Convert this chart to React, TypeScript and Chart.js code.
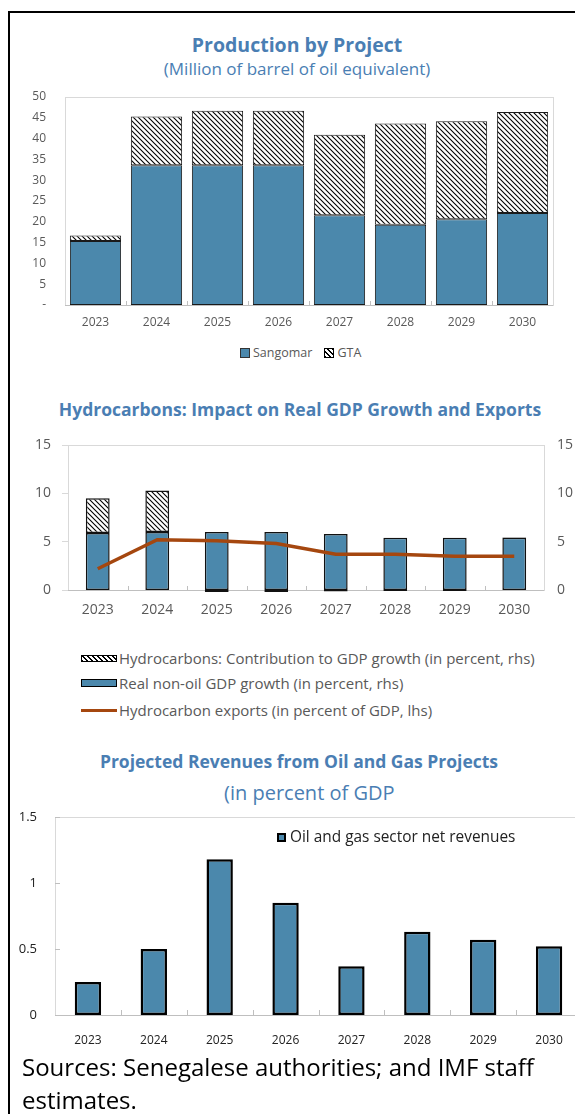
import React, { useEffect, useRef } from 'react';
import { Chart, registerables } from 'chart.js';

Chart.register(...registerables);

// ---------- data ----------
const years = ['2023', '2024', '2025', '2026', '2027', '2028', '2029', '2030'];

// Production by project (million barrels of oil equivalent)
const sangomar = [15.4, 33.6, 33.6, 33.6, 21.6, 19.3, 20.6, 22.1];
const gta = [1.3, 11.7, 13.1, 13.1, 19.3, 24.3, 23.6, 24.3];
const productionTicks = [0, 5, 10, 15, 20, 25, 30, 35, 40, 45, 50];

// Hydrocarbons: impact on growth and exports
const nonOilGrowth = [5.9, 6.0, 6.0, 6.0, 5.8, 5.4, 5.4, 5.4];
const hydroContribution = [3.6, 4.3, -0.2, -0.2, -0.15, -0.1, -0.1, 0.05];
const hydroExports = [2.2, 5.2, 5.1, 4.8, 3.7, 3.7, 3.5, 3.5];

// Projected revenues (percent of GDP)
const netRevenues = [0.25, 0.5, 1.18, 0.85, 0.37, 0.63, 0.57, 0.52];

// ---------- styles ----------
const BLUE = '#4b88ac';
const TITLE = '#4a7eb3';
const BROWN = '#a5470f';
const GRAY = '#595959';
const FONT = '"Open Sans", "Noto Sans", sans-serif';

function makeHatch(): CanvasPattern | string {
  const s = 5;
  const c = document.createElement('canvas');
  c.width = s;
  c.height = s;
  const g = c.getContext('2d');
  if (!g) return '#fff';
  g.fillStyle = '#fff';
  g.fillRect(0, 0, s, s);
  g.strokeStyle = '#000';
  g.lineWidth = 1.1;
  g.beginPath();
  g.moveTo(-1, -1);
  g.lineTo(s + 1, s + 1);
  g.moveTo(-s - 1, -1);
  g.lineTo(1, s + 1);
  g.moveTo(s - 1, -1);
  g.lineTo(2 * s + 1, s + 1);
  g.stroke();
  return g.createPattern(c, 'repeat') || '#fff';
}

// plot-area frame and inside tick marks
const framePlugin = {
  id: 'frame',
  beforeDatasetsDraw(chart: any, _args: any, opts: any) {
    const { ctx, chartArea } = chart;
    const { left, right, top, bottom } = chartArea;
    ctx.save();
    ctx.lineWidth = 1;
    ctx.strokeStyle = opts.frameColor || '#d9d9d9';
    ctx.strokeRect(Math.round(left) + 0.5, Math.round(top) + 0.5, Math.round(right - left), Math.round(bottom - top));
    ctx.strokeStyle = opts.axisColor || '#bfbfbf';
    ctx.beginPath();
    ctx.moveTo(left, Math.round(bottom) + 0.5);
    ctx.lineTo(right, Math.round(bottom) + 0.5);
    ctx.stroke();
    const len = opts.tickLen || 4;
    if (opts.xTicks) {
      const xs = chart.scales.x;
      const n = chart.data.labels.length;
      ctx.beginPath();
      for (let i = 1; i < n; i++) {
        const x = Math.round((xs.getPixelForValue(i - 1) + xs.getPixelForValue(i)) / 2) + 0.5;
        ctx.moveTo(x, bottom);
        ctx.lineTo(x, bottom - len);
      }
      ctx.stroke();
    }
    if (opts.yTicks) {
      const ys = chart.scales[opts.yTicks];
      ctx.beginPath();
      ys.ticks.forEach((t: any) => {
        const y = Math.round(ys.getPixelForValue(t.value)) + 0.5;
        ctx.moveTo(left, y);
        ctx.lineTo(left + len, y);
      });
      ctx.stroke();
    }
    ctx.restore();
  },
};

const fixY = (w: number) => (s: any) => {
  s.width = w;
  s.paddingTop = 0;
  s.paddingBottom = 0;
};

export default function App() {
  const c1 = useRef<HTMLCanvasElement>(null);
  const c2 = useRef<HTMLCanvasElement>(null);
  const c3 = useRef<HTMLCanvasElement>(null);

  useEffect(() => {
    const hatch = makeHatch();

    const ch1 = new Chart(c1.current as HTMLCanvasElement, {
      type: 'bar',
      data: {
        labels: years,
        datasets: [
          {
            label: 'Sangomar',
            data: sangomar,
            backgroundColor: BLUE,
            borderColor: '#1a1a1a',
            borderWidth: 1,
            borderSkipped: false,
            barPercentage: 0.84,
            categoryPercentage: 1,
          },
          {
            label: 'GTA',
            data: gta,
            backgroundColor: hatch as any,
            borderColor: '#1a1a1a',
            borderWidth: 1,
            borderSkipped: false,
            barPercentage: 0.84,
            categoryPercentage: 1,
          },
        ],
      },
      options: {
        animation: false,
        responsive: false,
        maintainAspectRatio: false,
        layout: { padding: { top: 8, right: 22, left: 0, bottom: 0 } },
        plugins: {
          legend: { display: false },
          tooltip: { enabled: false },
          frame: { xTicks: true, tickLen: 4 },
        } as any,
        scales: {
          x: {
            stacked: true,
            grid: { display: false, drawTicks: false },
            border: { display: false },
            ticks: { font: { family: FONT, size: 12 }, color: GRAY, padding: 10 },
            afterFit: (s: any) => { s.height = 30; },
          },
          y: {
            stacked: true,
            min: 0,
            max: 50,
            afterBuildTicks: (s: any) => { s.ticks = productionTicks.map((v) => ({ value: v })); },
            grid: { display: false, drawTicks: false },
            border: { display: false },
            ticks: {
              font: { family: FONT, size: 12 },
              color: GRAY,
              padding: 19,
              callback: (v: any) => (Number(v) === 0 ? '-' : String(v)),
            },
            afterFit: fixY(65),
          },
        },
      },
      plugins: [framePlugin],
    } as any);

    const ch2 = new Chart(c2.current as HTMLCanvasElement, {
      type: 'bar',
      data: {
        labels: years,
        datasets: [
          {
            type: 'line',
            label: 'Hydrocarbon exports (in percent of GDP, lhs)',
            data: hydroExports,
            yAxisID: 'yL',
            borderColor: BROWN,
            backgroundColor: BROWN,
            borderWidth: 3.5,
            pointRadius: 0,
            tension: 0,
            order: 0,
          },
          {
            label: 'Real non-oil GDP growth (in percent, rhs)',
            data: nonOilGrowth,
            yAxisID: 'yR',
            backgroundColor: BLUE,
            borderColor: '#111',
            borderWidth: 1.5,
            borderSkipped: false,
            barPercentage: 0.4,
            categoryPercentage: 1,
            stack: 'g',
            order: 1,
          },
          {
            label: 'Hydrocarbons: Contribution to GDP growth (in percent, rhs)',
            data: hydroContribution,
            yAxisID: 'yR',
            backgroundColor: hatch as any,
            borderColor: '#111',
            borderWidth: 1.5,
            borderSkipped: false,
            barPercentage: 0.4,
            categoryPercentage: 1,
            stack: 'g',
            order: 1,
            clip: false,
          },
        ],
      },
      options: {
        animation: false,
        responsive: false,
        maintainAspectRatio: false,
        layout: { padding: { top: 10, right: 0, left: 0, bottom: 0 } },
        plugins: {
          legend: { display: false },
          tooltip: { enabled: false },
          frame: { xTicks: true, tickLen: 4 },
        } as any,
        scales: {
          x: {
            stacked: true,
            grid: { display: false, drawTicks: false },
            border: { display: false },
            ticks: { font: { family: FONT, size: 14 }, color: GRAY, padding: 12 },
            afterFit: (s: any) => { s.height = 35; },
          },
          yL: {
            position: 'left',
            min: 0,
            max: 15,
            ticks: { stepSize: 5, font: { family: FONT, size: 14 }, color: GRAY, padding: 11 },
            grid: { display: true, drawOnChartArea: false, drawTicks: true, tickLength: 6, color: '#d9d9d9' },
            border: { display: false },
            afterFit: fixY(68),
          },
          yR: {
            position: 'right',
            stacked: true,
            min: 0,
            max: 15,
            ticks: { stepSize: 5, font: { family: FONT, size: 14 }, color: GRAY, padding: 13 },
            grid: { display: false, drawTicks: false },
            border: { display: false },
            afterFit: fixY(31),
          },
        },
      },
      plugins: [framePlugin],
    } as any);

    const ch3 = new Chart(c3.current as HTMLCanvasElement, {
      type: 'bar',
      data: {
        labels: years,
        datasets: [
          {
            label: 'Oil and gas sector net revenues',
            data: netRevenues,
            backgroundColor: BLUE,
            borderColor: '#000',
            borderWidth: 2.5,
            borderSkipped: false,
            barPercentage: 0.4,
            categoryPercentage: 1,
          },
        ],
      },
      options: {
        animation: false,
        responsive: false,
        maintainAspectRatio: false,
        layout: { padding: { top: 12, right: 18, left: 0, bottom: 0 } },
        plugins: {
          legend: { display: false },
          tooltip: { enabled: false },
          frame: { xTicks: true, yTicks: 'y', tickLen: 5 },
        } as any,
        scales: {
          x: {
            grid: { display: false, drawTicks: false },
            border: { display: false },
            ticks: { font: { family: FONT, size: 12 }, color: '#222', padding: 18 },
            afterFit: (s: any) => { s.height = 40; },
          },
          y: {
            min: 0,
            max: 1.5,
            ticks: {
              stepSize: 0.5,
              font: { family: FONT, size: 13 },
              color: '#222',
              padding: 18,
              callback: (v: any) => String(Math.round(Number(v) * 10) / 10),
            },
            grid: { display: false, drawTicks: false },
            border: { display: false },
            afterFit: fixY(55),
          },
        },
      },
      plugins: [framePlugin],
    } as any);

    return () => {
      ch1.destroy();
      ch2.destroy();
      ch3.destroy();
    };
  }, []);

  const abs = (l: number, t: number, extra: React.CSSProperties = {}): React.CSSProperties => ({
    position: 'absolute',
    left: l,
    top: t,
    fontFamily: FONT,
    ...extra,
  });

  const hatchCss = 'repeating-linear-gradient(45deg, #000 0px, #000 1px, #fff 1px, #fff 3.5px)';

  return (
    <div>
      {/* outer frame */}
      <div style={{ position: 'absolute', left: 8, top: 11, width: 567, height: 1103, borderTop: '2px solid #000', borderLeft: '2px solid #000', boxSizing: 'border-box' }} />

      {/* chart 1 */}
      <div style={abs(8, 32, { width: 578, textAlign: 'center', color: TITLE, fontWeight: 700, fontSize: 19.5, lineHeight: '26px', whiteSpace: 'nowrap' })}>Production by Project</div>
      <div style={abs(8, 57, { width: 578, textAlign: 'center', color: TITLE, fontSize: 17, lineHeight: '24px', whiteSpace: 'nowrap' })}>(Million of barrel of oil equivalent)</div>
      <canvas ref={c1} width={575} height={246} style={{ position: 'absolute', left: 0, top: 89, width: 575, height: 246 }} />
      <div style={abs(240, 344, { display: 'flex', alignItems: 'center', fontSize: 12.5, color: GRAY, lineHeight: '18px', whiteSpace: 'nowrap' })}>
        <span style={{ display: 'inline-block', width: 8, height: 8, background: BLUE, border: '1px solid #333', marginRight: 3 }} />
        <span>Sangomar</span>
        <span style={{ display: 'inline-block', width: 8, height: 8, background: hatchCss, border: '1px solid #000', marginLeft: 12, marginRight: 3 }} />
        <span>GTA</span>
      </div>

      {/* chart 2 */}
      <div style={abs(8, 396, { width: 584, textAlign: 'center', color: TITLE, fontWeight: 700, fontSize: 17.5, lineHeight: '26px', whiteSpace: 'nowrap' })}>Hydrocarbons: Impact on Real GDP Growth and Exports</div>
      <canvas ref={c2} width={575} height={190} style={{ position: 'absolute', left: 0, top: 435, width: 575, height: 190 }} />
      <div style={abs(81, 647, { display: 'flex', alignItems: 'center', fontSize: 15, color: GRAY, lineHeight: '22px', whiteSpace: 'nowrap' })}>
        <span style={{ display: 'inline-block', width: 36, height: 7, background: hatchCss, border: '1px solid #000', boxSizing: 'border-box', marginRight: 2 }} />
        <span>Hydrocarbons: Contribution to GDP growth (in percent, rhs)</span>
      </div>
      <div style={abs(81, 672, { display: 'flex', alignItems: 'center', fontSize: 15, color: GRAY, lineHeight: '22px', whiteSpace: 'nowrap' })}>
        <span style={{ display: 'inline-block', width: 36, height: 8, background: BLUE, border: '1px solid #000', boxSizing: 'border-box', marginRight: 2 }} />
        <span>Real non-oil GDP growth (in percent, rhs)</span>
      </div>
      <div style={abs(81, 699, { display: 'flex', alignItems: 'center', fontSize: 15, color: GRAY, lineHeight: '22px', whiteSpace: 'nowrap' })}>
        <span style={{ display: 'inline-block', width: 36, height: 3, background: BROWN, marginRight: 2 }} />
        <span>Hydrocarbon exports (in percent of GDP, lhs)</span>
      </div>

      {/* chart 3 */}
      <div style={abs(8, 748, { width: 582, textAlign: 'center', color: TITLE, fontWeight: 700, fontSize: 17.5, lineHeight: '26px', whiteSpace: 'nowrap' })}>Projected Revenues from Oil and Gas Projects</div>
      <div style={abs(224, 779, { color: TITLE, fontSize: 20, lineHeight: '28px', whiteSpace: 'nowrap' })}>(in percent of GDP</div>
      <div style={{ position: 'absolute', left: 0, top: 805, width: 575, height: 260, overflow: 'hidden' }}>
        <canvas ref={c3} width={600} height={250} style={{ position: 'absolute', left: 0, top: 0, width: 600, height: 250 }} />
      </div>
      <div style={abs(277, 826, { display: 'flex', alignItems: 'center', fontSize: 15.4, color: '#222', lineHeight: '22px', whiteSpace: 'nowrap' })}>
        <span style={{ display: 'inline-block', width: 9, height: 9, background: BLUE, border: '2px solid #000', boxSizing: 'border-box', marginRight: 4 }} />
        <span>Oil and gas sector net revenues</span>
      </div>

      {/* source note */}
      <div style={abs(22, 1050, { fontSize: 24, lineHeight: '33px', color: '#000', whiteSpace: 'nowrap' })}>
        Sources: Senegalese authorities; and IMF staff
        <br />
        estimates.
      </div>
    </div>
  );
}
